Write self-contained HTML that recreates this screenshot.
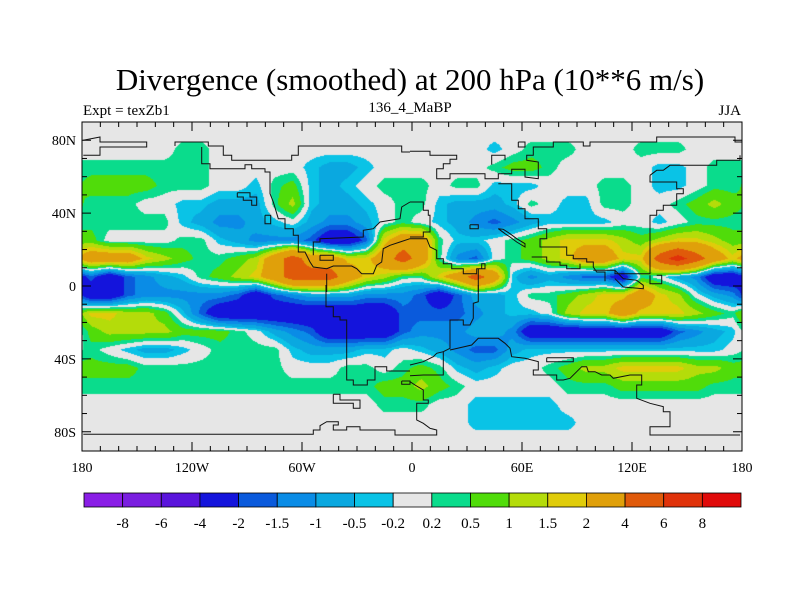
<!DOCTYPE html>
<html><head><meta charset="utf-8"><style>
body{margin:0;background:#fff;}
#wrap{position:relative;width:800px;height:600px;font-family:"Liberation Serif",serif;}
svg text{font-family:"Liberation Serif",serif;}
</style></head><body>
<div id="wrap">
<svg id="svg" width="800" height="600" xmlns="http://www.w3.org/2000/svg">
<text x="410" y="90" font-size="31" text-anchor="middle">Divergence (smoothed) at 200 hPa (10**6 m/s)</text>
<text x="83" y="115" font-size="15">Expt = texZb1</text>
<text x="410" y="112" font-size="15" text-anchor="middle">136_4_MaBP</text>
<text x="741" y="115" font-size="15" text-anchor="end">JJA</text>
<foreignObject x="82" y="122" width="660" height="329"><canvas xmlns="http://www.w3.org/1999/xhtml" id="cv" width="660" height="329"></canvas></foreignObject>
<g id="coast"></g>
<g id="axes"></g>
<g id="cbar"></g>
</svg>
</div>
<script>
// level codes per 10-deg cell (lat centers 85N..85S, lon centers 175W..175E)
const lonCenters=[-175,-165,-155,-145,-135,-125,-115,-105,-95,-85,-75,-65,-55,-45,-35,-25,-15,-5,5,15,25,35,45,55,65,75,85,95,105,115,125,135,145,155,165,175];
const latCenters=[85,75,65,55,45,35,25,15,5,-5,-15,-25,-35,-45,-55,-65,-75,-85];
const levelValues=[-9,-7,-5,-3,-1.7,-1.2,-0.7,-0.35,0,0.35,0.7,1.2,1.7,3,5,7,9];
const contourLevels=[-8,-6,-4,-2,-1.5,-1,-0.5,-0.2,0.2,0.5,1,1.5,2,4,6,8];
const levelColors=["#8a1ee6","#7a1ee0","#5a14dc","#1414dc","#0a5adc","#0a8ce6","#0aa8e0","#0ac3e6","#e6e6e6","#0adc8c","#50dc0a","#b4dc0a","#e0cc0a","#e0a00a","#e05a0a","#e0320a","#e00a0a"];
const row85=[8,8,8,8,8,8,8,8,8,8,8,8,8,8,8,8,8,8,8,8,8,8,8,8,8,8,8,8,8,8,8,8,8,8,8,8];
const row75=[8,8,8,8,8,9,9,8,8,8,8,8,8,8,8,8,8,8,8,8,8,8,7,8,9,9,9,8,8,8,9,9,9,8,8,8];
const row65=[9,9,9,9,9,9,9,8,8,8,8,8,7,6,6,7,8,8,8,8,8,8,9,10,10,9,8,8,8,8,8,7,7,8,9,9];
const row55=[10,10,10,10,9,9,9,8,8,7,9,10,7,6,7,8,9,9,9,8,9,9,7,7,7,8,8,8,9,9,8,7,7,8,9,9];
const row45=[9,9,9,8,8,7,7,6,6,6,9,11,7,6,6,7,8,9,9,7,6,6,6,7,9,8,7,7,9,9,8,8,9,10,11,10];
const row35=[9,9,9,9,9,7,6,5,5,6,7,8,6,5,5,6,8,9,8,7,6,5,4,5,6,7,7,7,7,8,8,7,8,9,9,9];
const row25=[10,8,8,8,8,9,9,7,6,5,5,5,4,3,3,4,12,13,13,9,7,7,8,9,10,11,12,12,12,11,10,11,12,12,11,10];
const row15=[13,13,13,12,11,10,9,9,10,11,13,14,13,13,12,12,13,14,13,9,5,4,8,9,10,11,12,13,13,12,12,14,15,14,13,12];
const row5=[4,3,4,5,6,7,9,10,11,12,13,14,14,14,13,12,11,9,9,12,13,14,13,7,5,6,5,4,4,3,9,8,6,5,3,3];
const rowS5=[3,3,4,5,5,5,5,5,4,3,4,5,6,6,6,5,5,5,4,3,4,6,6,7,9,9,10,11,12,12,13,12,11,8,6,5];
const rowS15=[12,12,11,11,10,7,4,3,3,3,3,3,3,3,3,3,3,4,4,4,4,5,6,7,7,8,11,12,12,13,12,12,12,11,10,9];
const rowS25=[10,11,11,11,11,10,10,10,9,8,6,5,4,3,3,3,3,4,5,5,5,6,6,5,3,3,3,3,3,3,3,3,4,5,6,7];
const rowS35=[9,8,7,6,6,7,8,9,9,9,9,7,6,6,6,7,7,8,7,6,5,4,4,6,7,7,7,7,7,7,7,7,7,7,7,8];
const rowS45=[10,10,10,9,9,9,9,9,9,9,9,8,8,8,9,9,8,9,10,9,7,6,7,8,8,9,10,11,11,12,12,12,12,11,11,10];
const rowS55=[9,9,9,9,9,9,9,9,9,9,9,9,9,9,9,9,10,10,11,10,9,8,8,8,8,8,9,9,9,10,10,10,10,10,9,9];
const rowS65=[8,8,8,8,8,8,8,8,8,8,8,8,8,8,8,8,9,9,9,8,8,7,7,7,7,7,8,8,8,8,8,8,8,8,8,8];
const rowS75=[8,8,8,8,8,8,8,8,8,8,8,8,8,8,8,8,8,8,8,8,8,7,7,7,7,7,7,8,8,8,8,8,8,8,8,8];
const rowS85=[8,8,8,8,8,8,8,8,8,8,8,8,8,8,8,8,8,8,8,8,8,8,8,8,8,8,8,8,8,8,8,8,8,8,8,8];
const levelRows=[row85,row75,row65,row55,row45,row35,row25,row15,row5,rowS5,rowS15,rowS25,rowS35,rowS45,rowS55,rowS65,rowS75,rowS85];
const xTickLabels=["180","120W","60W","0","60E","120E","180"];
const xTickLons=[-180,-120,-60,0,60,120,180];
const yTickLabels=["80N","40N","0","40S","80S"];
const yTickLats=[80,40,0,-40,-80];
const cbarLabels=["-8","-6","-4","-2","-1.5","-1","-0.5","-0.2","0.2","0.5","1","1.5","2","4","6","8"];

const X0=82,X1=742,Y0=122,Y1=451,YEQ=286,PPD=1.822;
const xScale=lon=>X0+(lon+180)/360*(X1-X0);
const yScale=lat=>YEQ-lat*PPD;
const lonInv=x=>(x-X0)/(X1-X0)*360-180;
const latInv=y=>(YEQ-y)/PPD;
const NS="http://www.w3.org/2000/svg";
function mk(tag,attrs,parent){const e=document.createElementNS(NS,tag);for(const k in attrs)e.setAttribute(k,attrs[k]);parent.appendChild(e);return e;}
const field=levelRows.map(r=>r.map(c=>levelValues[c]));
function val(lon,lat){
  let fi=(lon-lonCenters[0])/10; let i0=Math.floor(fi),tx=fi-i0;
  const n=lonCenters.length; const ia=((i0%n)+n)%n, ib=(ia+1)%n;
  let fj=(latCenters[0]-lat)/10; fj=Math.max(0,Math.min(latCenters.length-1,fj));
  let j0=Math.min(Math.floor(fj),latCenters.length-2), ty=fj-j0;
  const a=field[j0][ia]*(1-tx)+field[j0][ib]*tx, b=field[j0+1][ia]*(1-tx)+field[j0+1][ib]*tx;
  return a*(1-ty)+b*ty;
}
const cv=document.getElementById('cv'),ctx=cv.getContext('2d');
const rgb=levelColors.map(h=>[parseInt(h.substr(1,2),16),parseInt(h.substr(3,2),16),parseInt(h.substr(5,2),16)]);
const img=ctx.createImageData(cv.width,cv.height);
for(let py=0;py<cv.height;py++){const lat=latInv(Y0+py+0.5);
  for(let px=0;px<cv.width;px++){const lon=lonInv(X0+px+0.5);const v=val(lon,lat);
    let k=0;while(k<contourLevels.length&&v>=contourLevels[k])k++;
    const c=rgb[k],o=(py*cv.width+px)*4;img.data[o]=c[0];img.data[o+1]=c[1];img.data[o+2]=c[2];img.data[o+3]=255;}}
ctx.putImageData(img,0,0);

// paleo coastlines (pixel outlines, grouped by map quadrant origin)
const coastGroups=[
 {ox:80,oy:122,lines:[
  [[10,55],[60,45],[60,60],[200,60],[200,75],[60,75],[60,100],[10,100]],
  [[285,72],[285,60],[385,60],[385,72],[430,72],[430,100],[455,100],[455,115],[635,115],[635,100],[655,100],[655,72],[965,72],[965,90],[990,90]],
  [[365,75],[365,125],[390,125],[390,140],[495,140],[495,128],[515,128],[515,140],[555,140],[555,150],[570,150],[570,215],[580,240],[595,290],[615,290],[615,320],[640,320],[640,340],[655,340],[655,390],[675,390],[690,420],[700,435],[740,440],[760,432],[815,432],[830,440],[845,455],[880,455],[890,430],[905,420],[910,380],[930,370],[960,360],[990,350]],
  [[700,400],[700,360],[720,360],[720,350],[850,345],[850,325],[880,320],[900,300],[960,290],[965,255],[990,240]],
  [[472,212],[510,212],[510,225],[530,225],[530,250],[515,250],[515,235],[490,235],[490,225],[472,225],[472,212]],
  [[555,280],[572,280],[572,305],[555,305],[555,280]],
  [[720,400],[760,400],[760,415],[720,415],[720,400]],
  [[740,455],[740,510]]]},
 {ox:80,oy:285,lines:[
  [[738,0],[738,65],[760,65],[760,95],[780,95],[780,105],[800,105],[800,285],[820,285],[820,300],[862,300],[862,285],[885,285],[885,245],[920,245],[920,258],[990,258]],
  [[965,288],[990,288],[990,298],[965,298],[965,288]],
  [[760,328],[780,328],[780,345],[840,345],[840,370],[820,370],[820,355],[760,355],[760,328]],
  [[10,448],[700,448],[700,435],[720,435],[720,422],[740,410],[775,410],[775,420],[760,420],[760,435],[800,435],[800,425],[840,425],[840,435],[945,435],[945,450],[990,450]]]},
 {ox:410,oy:122,lines:[
  [[0,88],[60,88],[60,100],[140,100],[140,112],[120,112],[120,125],[100,125],[100,140],[80,140],[80,170],[120,170],[120,155],[225,155],[225,170],[265,170],[265,155],[305,155],[305,142],[345,142],[345,165],[385,170],[385,120],[350,115],[350,100],[370,100],[370,75],[430,75],[430,60],[520,60],[520,72],[540,72],[540,60],[740,60],[740,45],[975,45],[975,60],[996,60]],
  [[325,60],[345,60],[345,75],[325,75],[325,60]],
  [[245,128],[245,100],[285,100],[285,115]],
  [[265,185],[305,185],[305,235],[325,235],[325,260],[345,260],[345,290],[385,290],[385,320],[410,320],[410,350],[390,350],[390,375],[470,375],[470,400],[490,400],[490,410],[530,410],[530,420],[550,420],[550,435],[560,450],[585,450],[585,478]],
  [[720,160],[740,145],[760,145],[780,130],[920,130],[920,115],[990,115],[990,100]],
  [[720,160],[720,180],[800,180],[800,200],[820,200],[820,215],[800,215],[800,250],[760,250],[760,265],[740,265],[740,280],[720,280],[720,455],[615,455],[615,445],[550,445]],
  [[740,460],[755,460],[755,485],[720,485],[720,460]],
  [[0,240],[40,240],[40,265],[55,265],[55,280],[60,280],[60,330],[40,330],[40,345],[0,345]],
  [[0,350],[50,350],[60,375],[80,385],[80,410],[100,410],[100,425],[125,425],[125,440],[160,440],[160,455],[200,455],[200,440],[215,440],[215,425],[225,425],[225,440],[205,440],[205,510]],
  [[365,405],[410,405],[410,420],[450,420],[450,430],[470,430],[470,440],[510,440],[510,425]],
  [[180,308],[205,308],[205,320],[180,320],[180,308]],
  [[265,320],[285,335],[300,345],[320,360],[345,375],[345,365],[320,350],[300,335],[280,322],[265,320]],
  [[615,445],[640,470],[680,475],[700,490],[700,500],[640,495],[615,470]]]},
 {ox:410,oy:285,lines:[
  [[205,0],[205,50],[190,55],[190,100],[180,120],[160,120],[160,105],[120,105],[120,190],[100,200],[80,205],[70,215],[40,230],[0,240]],
  [[100,200],[100,270],[40,270],[0,272]],
  [[120,195],[185,180],[205,160],[265,160],[285,175],[300,190],[305,215],[345,220],[385,230],[385,255],[370,255],[370,270],[440,270],[440,285],[460,285],[480,280],[500,260],[515,245],[530,245],[535,260],[555,260],[575,270],[600,270],[610,280],[660,270],[695,270],[695,300],[680,300],[680,340],[720,355],[760,365],[760,380],[780,380],[780,425],[720,425],[720,450],[990,450]],
  [[410,218],[490,218],[490,230],[410,230],[410,218]],
  [[0,290],[15,300],[40,315],[40,345],[55,345],[55,355],[20,355],[20,405],[40,415],[60,430],[80,435],[80,450],[0,450]]]}
];
const coast=document.getElementById('coast');
coastGroups.forEach(g=>g.lines.forEach(s=>{
  const p=mk('polyline',{points:s.map(q=>(g.ox+q[0]/3).toFixed(1)+','+(g.oy+q[1]/3).toFixed(1)).join(' '),fill:'none',stroke:'#111','stroke-width':1},coast);
  
  
}));
// axes
const ax=document.getElementById('axes');
const fr=mk('rect',{x:X0,y:Y0,width:X1-X0,height:Y1-Y0,fill:'none',stroke:'#000','stroke-width':1},ax);


for(let lon=-180;lon<=180;lon+=10){const x=xScale(lon),L=(lon%60===0)?9:5;
  mk('line',{x1:x,y1:Y0,x2:x,y2:Y0+L,stroke:'#000'},ax);mk('line',{x1:x,y1:Y1,x2:x,y2:Y1-L,stroke:'#000'},ax);}
for(let lat=-80;lat<=80;lat+=10){const y=yScale(lat),L=(lat%40===0)?9:5;
  mk('line',{x1:X0,y1:y,x2:X0+L,y2:y,stroke:'#000'},ax);mk('line',{x1:X1,y1:y,x2:X1-L,y2:y,stroke:'#000'},ax);}
xTickLabels.forEach((t,i)=>{const e=mk('text',{x:xScale(xTickLons[i]),y:472,'font-size':14,'text-anchor':'middle'},ax);e.textContent=t;

});
yTickLabels.forEach((t,i)=>{const e=mk('text',{x:76,y:yScale(yTickLats[i])+5,'font-size':14,'text-anchor':'end'},ax);e.textContent=t;

});
// colorbar
const cb=document.getElementById('cbar');const CB0=84,CB1=741,CBY=493,CBH=14,bw=(CB1-CB0)/levelColors.length;
levelColors.forEach((c,i)=>{const r=mk('rect',{x:CB0+i*bw,y:CBY,width:bw,height:CBH,fill:c,stroke:'#000','stroke-width':0.8},cb);

});
cbarLabels.forEach((t,i)=>{const e=mk('text',{x:CB0+(i+1)*bw,y:528,'font-size':15,'text-anchor':'middle'},cb);e.textContent=t;

});
</script>
</body></html>
